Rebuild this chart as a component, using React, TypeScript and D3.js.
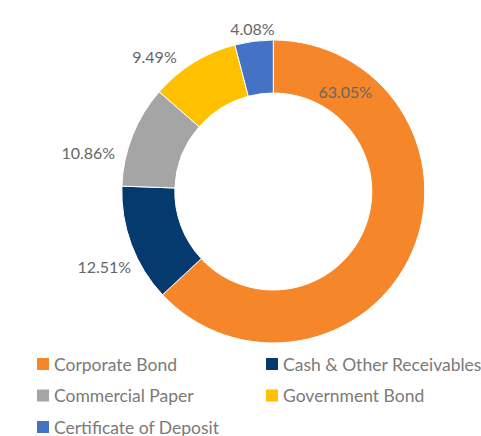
import React from "react";
import * as d3 from "d3";

const categories = ["Corporate Bond", "Cash & Other Receivables", "Commercial Paper", "Government Bond", "Certificate of Deposit"];
const values = [63.05, 12.51, 10.86, 9.49, 4.08];
const labels = ["63.05%", "12.51%", "10.86%", "9.49%", "4.08%"];
const colors = ["#F5862A", "#053A6E", "#A5A5A5", "#FFC000", "#4472C4"];

// label layout: absolute angle (deg from top, clockwise), radius from centre
const labelPolar: [number, number][] = [
  [35.6, 123.6],
  [-113.8, 184.7],
  [-78.2, 189],
  [-41.3, 180],
  [-7.3, 164.8],
];

const W = 481, H = 436;
const cx = 273.3, cy = 191.5;
const outerR = 151.5, innerR = 98.5;

export default function App() {
  const pie = d3.pie<number>().sort(null).value((d) => d);
  const arcs = pie(values);
  const arcGen = d3.arc<d3.PieArcDatum<number>>().innerRadius(innerR).outerRadius(outerR);

  const legendItems = categories.map((c, i) => ({
    name: c,
    color: colors[i],
    col: i % 2,
    row: Math.floor(i / 2),
  }));
  const colX = [37, 266];
  const rowY = d3.scalePoint<number>().domain([0, 1, 2]).range([364, 427]);

  return (
    <svg width={W} height={H} style={{ position: "absolute", left: 0, top: 0, background: "#fff" }}
      fontFamily="Lato, 'Open Sans', sans-serif">
      <g transform={`translate(${cx},${cy})`}>
        {arcs.map((a, i) => (
          <path key={i} d={arcGen(a) || ""} fill={colors[i]} stroke="#fff" strokeWidth={1} />
        ))}
        {labels.map((l, i) => {
          const [deg, r] = labelPolar[i];
          const rad = (deg * Math.PI) / 180;
          return (
            <text key={i} x={r * Math.sin(rad)} y={-r * Math.cos(rad)} textAnchor="middle"
              dominantBaseline="central" fontSize={16} fill="#666666">
              {l}
            </text>
          );
        })}
      </g>
      {legendItems.map((it, i) => (
        <g key={i} transform={`translate(${colX[it.col]},${rowY(it.row)})`}>
          <rect x={0} y={-6} width={12} height={12} fill={it.color} />
          <text x={17} y={0} dominantBaseline="central" fontSize={17.5} fill="#7a7a7a">
            {it.name}
          </text>
        </g>
      ))}
    </svg>
  );
}
